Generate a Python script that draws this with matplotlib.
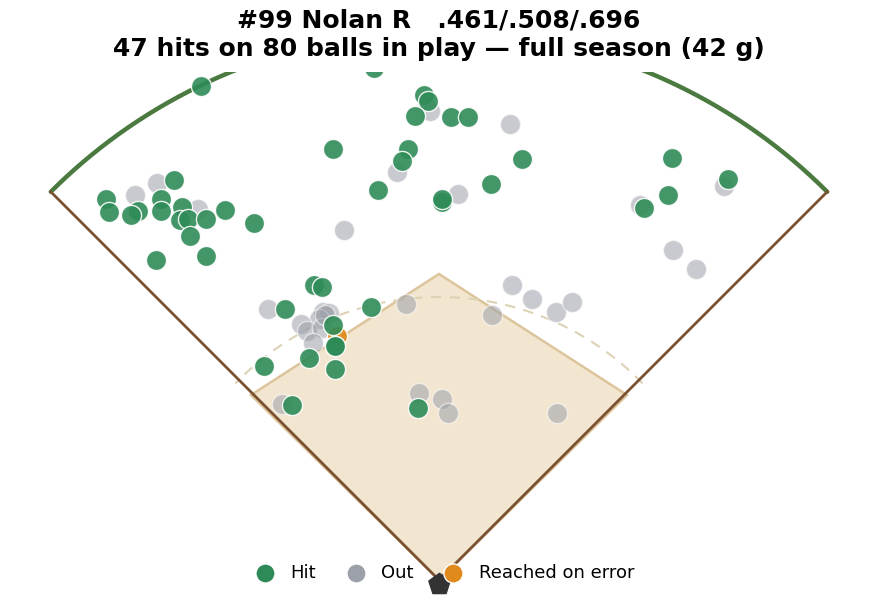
import numpy as np
import matplotlib.pyplot as plt

# spray chart coordinates, home plate at origin, y towards center field
hit_x = [-238, -106, -265, -333, -330, -301, -308, -278, -278, -257, -259, -251, -233, -214,
         -249, -185, -283, -233, -65, -15, -11, -24, 12, 29, -31, -37, -61, 3, 3, 52, 83,
         233, 229, 205, 289, -125, -117, -154, -68, -106, -104, -130, -175, -104, -147, -21, -104]
hit_y = [494, 431, 400, 381, 368, 369, 365, 381, 369, 373, 360, 361, 361, 370,
         344, 357, 320, 324, 512, 485, 479, 464, 463, 463, 431, 419, 390, 378, 381, 396, 421,
         422, 385, 372, 401, 295, 293, 271, 273, 255, 234, 222, 214, 211, 175, 172, 234]
out_x = [-304, -282, -241, -9, 71, -42, 19, -95, 201, 285, 234, 257,
         -171, -33, -116, -110, -120, -138, -132, -117, -126, -157, -20,
         73, 93, 117, 133, 53, 3, 9, 118, -114]
out_y = [385, 397, 371, 469, 456, 408, 386, 350, 375, 394, 330, 311,
         271, 276, 268, 267, 261, 256, 249, 252, 237, 176, 187,
         295, 281, 268, 278, 265, 181, 167, 167, 265]
err_x = [-102]
err_y = [244]

title = "#99 Nolan R   .461/.508/.696\n47 hits on 80 balls in play \u2014 full season (42 g)"

# field geometry
fence_r = 549
grass_r = 283
first_base = (188, 185)
second_base = (0, 306)
third_base = (-188, 185)

fig = plt.figure(figsize=(8.78, 6.04), dpi=100)
ax = fig.add_axes([0, 0, 1, 532 / 604])
ax.set_xlim(-439, 439)
ax.set_ylim(-24, 508)
ax.axis("off")

infield = plt.Polygon([(0, 0), first_base, second_base, third_base], closed=True,
                      facecolor="#f3e6d0", edgecolor="#dcc59c", lw=1.8, zorder=1)
ax.add_patch(infield)

t = np.radians(np.linspace(44, 136, 200))
ax.plot(grass_r * np.cos(t), grass_r * np.sin(t), ls=(0, (5, 4)), color="#ddd2b6", lw=1.5, zorder=2)

t = np.radians(np.linspace(45, 135, 300))
ax.plot(fence_r * np.cos(t), fence_r * np.sin(t), color="#4b7a40", lw=3.2, zorder=2,
        solid_capstyle="round")
c = fence_r / np.sqrt(2)
ax.plot([-c, 0, c], [c, 0, c], color="#7a5231", lw=2, zorder=2)

ax.scatter([0], [-4], marker="p", s=260, color="#333333", zorder=3)

ax.scatter(out_x, out_y, s=210, color="#9ca0a8", alpha=0.55, edgecolors="white", linewidths=1,
           zorder=4, label="Out")
ax.scatter(err_x, err_y, s=210, color="#e08a1e", alpha=0.95, edgecolors="white", linewidths=1,
           zorder=5, label="Reached on error")
ax.scatter(hit_x, hit_y, s=210, color="#2e8b57", alpha=0.9, edgecolors="white", linewidths=1,
           zorder=6, label="Hit")

h, l = ax.get_legend_handles_labels()
order = [2, 0, 1]
leg = fig.legend([h[i] for i in order], [l[i] for i in order], loc="center", ncol=3,
                 bbox_to_anchor=(0.502, 1 - 573 / 604), frameon=False, fontsize=13,
                 handletextpad=0.4, columnspacing=1.2, markerscale=0.95)
for lh in leg.legend_handles:
    lh.set_alpha(1)

fig.text(0.5, 1 - 8 / 604, title, ha="center", va="top", fontsize=18, fontweight="bold",
         linespacing=1.25)

fig.savefig("out.png", dpi=100)
